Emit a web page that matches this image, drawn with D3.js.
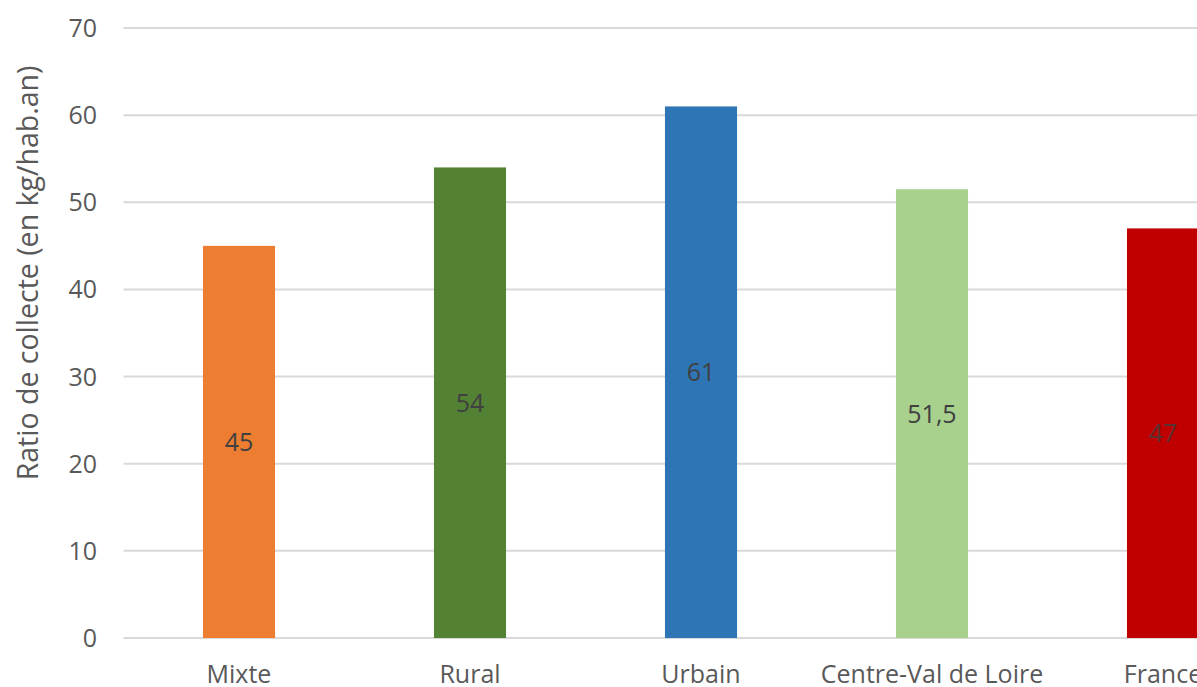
<!DOCTYPE html>
<html><head><meta charset="utf-8">
<script src="https://cdn.jsdelivr.net/npm/d3@7"></script>
<style>
html,body{margin:0;padding:0;background:#fff;overflow:hidden;}
svg{display:block;font-family:"Open Sans","Noto Sans",sans-serif;}
</style></head>
<body>
<svg id="chart" width="1197" height="687"></svg>
<script>
const categories = ["Mixte", "Rural", "Urbain", "Centre-Val de Loire", "France"];
const values = [45, 54, 61, 51.5, 47];
const valueLabels = ["45", "54", "61", "51,5", "47"];
const barColors = ["#ED7D31", "#548235", "#2E75B6", "#A9D18E", "#C00000"];
const yTicks = [0, 10, 20, 30, 40, 50, 60, 70];
const yTitle = "Ratio de collecte (en kg/hab.an)";

(function () {
const svg = d3.select("#chart");
const W = 1197;
const mLeft = 123.5, mRight = 1278.5, mTop = 28, mBottom = 638;

const x = d3.scaleBand().domain(categories).range([mLeft, mRight]).paddingInner(0.688).paddingOuter(0.344);
const y = d3.scaleLinear().domain([0, 70]).range([mBottom, mTop]);

// gridlines
svg.append("g").selectAll("line").data(yTicks).join("line")
  .attr("x1", mLeft).attr("x2", W)
  .attr("y1", d => y(d)).attr("y2", d => y(d))
  .attr("stroke", "#d9d9d9").attr("stroke-width", 2);

// y tick labels
svg.append("g").selectAll("text").data(yTicks).join("text")
  .attr("x", 97).attr("y", d => y(d)).attr("dy", "0.36em")
  .attr("text-anchor", "end").attr("fill", "#595959").attr("font-size", 25)
  .text(d => d);

// bars
svg.append("g").selectAll("rect").data(categories).join("rect")
  .attr("x", d => x(d)).attr("width", x.bandwidth())
  .attr("y", (d, i) => y(values[i])).attr("height", (d, i) => y(0) - y(values[i]))
  .attr("fill", (d, i) => barColors[i]);

// value labels
svg.append("g").selectAll("text").data(categories).join("text")
  .attr("x", d => x(d) + x.bandwidth() / 2)
  .attr("y", (d, i) => (y(values[i]) + y(0)) / 2)
  .attr("dy", "0.36em").attr("text-anchor", "middle")
  .attr("fill", (d, i) => i === 4 ? "#5a3030" : "#404040").attr("font-size", 25)
  .text((d, i) => valueLabels[i]);

// category labels
svg.append("g").selectAll("text").data(categories).join("text")
  .attr("x", d => x(d) + x.bandwidth() / 2)
  .attr("y", 683).attr("text-anchor", "middle")
  .attr("fill", "#595959").attr("font-size", 25)
  .text(d => d);

// y title
svg.append("text")
  .attr("transform", "translate(28,273) rotate(-90)")
  .attr("text-anchor", "middle").attr("dy", "0.36em")
  .attr("fill", "#595959").attr("font-size", 28.5)
  .text(yTitle);
})();
</script>
</body></html>
